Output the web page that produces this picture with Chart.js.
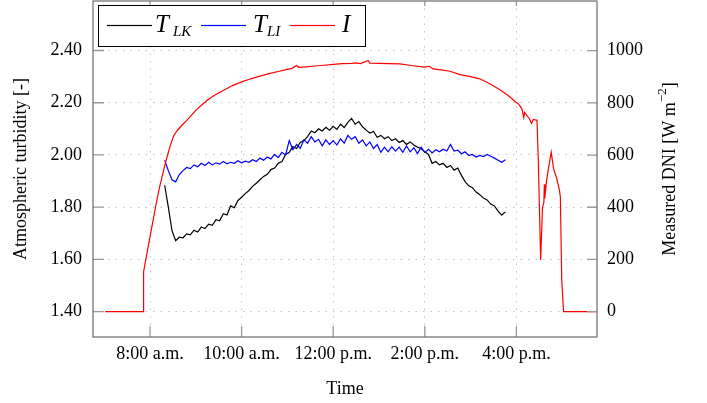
<!DOCTYPE html>
<html>
<head>
<meta charset="utf-8">
<script src="https://cdn.jsdelivr.net/npm/chart.js@4.4.0/dist/chart.umd.min.js"></script>
<style>
  html, body { margin: 0; padding: 0; background: #fff; }
  #wrap { width: 707px; height: 403px; }
</style>
</head>
<body>
<div id="wrap"><canvas id="chart" width="707" height="403"></canvas></div>
<script>
// time of day in decimal hours, shared by both turbidity series
var turbTime = [8.32, 8.40, 8.48, 8.56, 8.64, 8.72, 8.80, 8.88, 8.96, 9.04, 9.12, 9.20, 9.28, 9.36, 9.44, 9.52,
  9.60, 9.68, 9.76, 9.84, 9.92, 10.00, 10.08, 10.16, 10.24, 10.32, 10.40, 10.48, 10.56, 10.64, 10.72, 10.80,
  10.88, 10.96, 11.04, 11.12, 11.20, 11.28, 11.36, 11.44, 11.52, 11.60, 11.68, 11.76, 11.84, 11.92, 12.00,
  12.08, 12.16, 12.24, 12.32, 12.40, 12.48, 12.56, 12.64, 12.72, 12.80, 12.88, 12.96, 13.04, 13.12, 13.20,
  13.28, 13.36, 13.44, 13.52, 13.60, 13.68, 13.76, 13.84, 13.92, 14.00, 14.08, 14.16, 14.24, 14.32, 14.40,
  14.48, 14.56, 14.64, 14.72, 14.80, 14.88, 14.96, 15.04, 15.12, 15.20, 15.28, 15.36, 15.44, 15.52, 15.60,
  15.68, 15.76];

// Linke turbidity T_LK
var turbLK = [1.884, 1.800, 1.710, 1.672, 1.685, 1.683, 1.698, 1.694, 1.712, 1.705, 1.724, 1.718, 1.735, 1.731, 1.752, 1.748,
  1.775, 1.770, 1.805, 1.798, 1.826, 1.838, 1.852, 1.864, 1.880, 1.892, 1.905, 1.918, 1.926, 1.944, 1.950, 1.968,
  1.975, 2.002, 2.010, 2.032, 2.025, 2.048, 2.055, 2.070, 2.092, 2.085, 2.100, 2.092, 2.106, 2.095, 2.110,
  2.098, 2.118, 2.105, 2.125, 2.140, 2.118, 2.128, 2.108, 2.095, 2.084, 2.090, 2.068, 2.075, 2.062, 2.070,
  2.055, 2.062, 2.048, 2.055, 2.040, 2.050, 2.038, 2.030, 2.024, 2.012, 2.002, 1.968, 1.975, 1.962, 1.968,
  1.952, 1.960, 1.942, 1.950, 1.922, 1.898, 1.882, 1.875, 1.858, 1.848, 1.835, 1.828, 1.812, 1.805, 1.785,
  1.770, 1.782];

// Ineichen turbidity T_LI
var turbLI = [1.980, 1.940, 1.905, 1.897, 1.925, 1.940, 1.952, 1.948, 1.962, 1.955, 1.968, 1.960, 1.972, 1.962, 1.970, 1.965,
  1.975, 1.966, 1.972, 1.968, 1.978, 1.970, 1.976, 1.972, 1.982, 1.975, 1.988, 1.980, 1.992, 1.985, 2.002, 1.990,
  2.010, 2.000, 2.055, 2.020, 2.040, 2.025, 2.058, 2.045, 2.070, 2.050, 2.060, 2.035, 2.058, 2.040, 2.055,
  2.038, 2.062, 2.045, 2.075, 2.060, 2.070, 2.045, 2.058, 2.035, 2.050, 2.025, 2.040, 2.010, 2.030, 2.012,
  2.032, 2.015, 2.030, 2.010, 2.035, 2.012, 2.028, 2.005, 2.030, 2.010, 2.022, 2.008, 2.020, 2.012, 2.022,
  2.015, 2.040, 2.015, 2.018, 2.005, 2.012, 1.998, 2.002, 1.992, 1.998, 1.994, 2.002, 1.995, 1.988, 1.980,
  1.972, 1.982];

// measured DNI I [W m^-2]
var dniTime = [7.02, 7.85, 7.86, 7.95, 8.04, 8.12, 8.20, 8.28, 8.36, 8.44, 8.52, 8.60, 8.70, 8.80, 8.90, 9.00,
  9.10, 9.24, 9.40, 9.60, 9.80, 10.00, 10.20, 10.40, 10.60, 10.80, 11.00, 11.10, 11.20, 11.25, 11.40, 11.60,
  11.80, 12.00, 12.20, 12.40, 12.50, 12.60, 12.76, 12.80, 13.02, 13.20, 13.46, 13.70, 13.90, 14.00, 14.10,
  14.18, 14.35, 14.55, 14.77, 15.00, 15.20, 15.42, 15.64, 15.82, 15.99, 16.05, 16.12, 16.16, 16.18, 16.28,
  16.33, 16.37, 16.45, 16.48, 16.53, 16.57, 16.60, 16.61, 16.62, 16.66, 16.70, 16.76, 16.81, 16.88, 16.94,
  16.96, 16.99, 17.03, 17.76];
var dniValues = [0, 0, 153, 240, 325, 400, 470, 530, 585, 635, 675, 695, 715, 732, 752, 771,
  787, 809, 828, 847, 866, 880, 892, 902, 912, 920, 928, 932, 943, 936, 938, 941,
  944, 947, 950, 951, 953, 950, 962, 952, 951, 950, 949, 943, 939, 937, 940,
  930, 926, 921, 908, 900, 892, 873, 850, 828, 802, 795, 777, 744, 763, 740,
  721, 736, 733, 568, 198, 400, 419, 488, 434, 503, 549, 611, 549, 511, 465,
  440, 121, 0, 0];

var seriesLabels = ['T_LK', 'T_LI', 'I'];
var seriesColors = ['#000000', '#0000ff', '#ff0000'];

var timeTicks = [8, 10, 12, 14, 16];
var timeLabels = ['8:00 a.m.', '10:00 a.m.', '12:00 p.m.', '2:00 p.m.', '4:00 p.m.'];
var turbTicks = [1.4, 1.6, 1.8, 2.0, 2.2, 2.4];
var dniTicks = [0, 200, 400, 600, 800, 1000];

var SERIF = "'Liberation Serif', 'Times New Roman', serif";
Chart.defaults.font.family = SERIF;
Chart.defaults.font.size = 18;
Chart.defaults.color = '#000';

function pairs(xs, ys) {
    return xs.map(function(x, i) { return {x: x, y: ys[i]}; });
}
function fixedTicks(values) {
    return function(scale) {
        scale.ticks = values.map(function(v) { return {value: v}; });
    };
}
// fixed axis box size, no extra room for overhanging labels
function fixedSize(w, h) {
    return function(s) {
        if (w) s.width = w;
        if (h) s.height = h;
        s.paddingTop = s.paddingBottom = s.paddingLeft = s.paddingRight = 0;
    };
}

// frame, inward tick marks and the right axis title
var framePlugin = {
    id: 'frame',
    afterDraw: function(chart) {
        var ctx = chart.ctx, a = chart.chartArea;
        var sx = chart.scales.x, sy = chart.scales.y, sy2 = chart.scales.y2;
        ctx.save();
        ctx.strokeStyle = '#999';
        ctx.lineWidth = 1.3;
        ctx.beginPath();
        timeTicks.forEach(function(v) {
            var px = sx.getPixelForValue(v);
            ctx.moveTo(px, a.bottom); ctx.lineTo(px, a.bottom - 11);
            ctx.moveTo(px, a.top); ctx.lineTo(px, a.top + 5);
        });
        turbTicks.forEach(function(v) {
            var py = sy.getPixelForValue(v);
            ctx.moveTo(a.left, py); ctx.lineTo(a.left + 11, py);
        });
        dniTicks.forEach(function(v) {
            var py = sy2.getPixelForValue(v);
            ctx.moveTo(a.right, py); ctx.lineTo(a.right - 10, py);
        });
        ctx.stroke();
        ctx.strokeStyle = '#6b6b6b';
        ctx.lineWidth = 1.2;
        ctx.strokeRect(a.left, a.top, a.right - a.left, a.bottom - a.top);

        // right axis title, reading upwards, with superscript
        ctx.translate(670, (a.top + a.bottom) / 2);
        ctx.rotate(-Math.PI / 2);
        ctx.fillStyle = '#000';
        ctx.textBaseline = 'middle';
        var big = '18px ' + SERIF, small = '13px ' + SERIF;
        var t1 = 'Measured DNI [W m', t2 = '\u22122', t3 = ']';
        ctx.font = big;
        var w1 = ctx.measureText(t1).width, w3 = ctx.measureText(t3).width;
        ctx.font = small;
        var w2 = ctx.measureText(t2).width;
        var x0 = -(w1 + w2 + w3) / 2;
        ctx.font = big;
        ctx.fillText(t1, x0, 0);
        ctx.font = small;
        ctx.fillText(t2, x0 + w1, -7);
        ctx.font = big;
        ctx.fillText(t3, x0 + w1 + w2, 0);
        ctx.restore();
    }
};

// legend box with subscripted labels
var legendPlugin = {
    id: 'texLegend',
    afterDraw: function(chart) {
        var ctx = chart.ctx;
        var slots = [
            {lineX: 107, textX: 155, subX: 173},
            {lineX: 201, textX: 253, subX: 267},
            {lineX: 290, textX: 342, subX: 0}
        ];
        ctx.save();
        ctx.fillStyle = '#fff';
        ctx.fillRect(98.5, 5.5, 267, 41);
        ctx.strokeStyle = '#000';
        ctx.lineWidth = 1;
        ctx.strokeRect(98.5, 5.5, 267, 41);
        seriesLabels.forEach(function(label, i) {
            var s = slots[i];
            var parts = label.split('_');
            ctx.fillStyle = seriesColors[i];
            ctx.fillRect(s.lineX, 24.9, 45, 1.2);
            ctx.fillStyle = '#000';
            ctx.textBaseline = 'alphabetic';
            ctx.font = 'italic 25px ' + SERIF;
            ctx.fillText(parts[0], s.textX, 32);
            if (parts[1]) {
                ctx.font = 'italic 15px ' + SERIF;
                ctx.fillText(parts[1], s.subX, 35.5);
            }
        });
        ctx.restore();
    }
};

var gridStyle = {color: '#c4c4c4', lineWidth: 1, drawTicks: false};
var borderStyle = {display: false, dash: [1.5, 6]};

new Chart(document.getElementById('chart'), {
    type: 'line',
    data: {
        datasets: [
            {label: seriesLabels[0], data: pairs(turbTime, turbLK), borderColor: seriesColors[0], yAxisID: 'y', order: 3},
            {label: seriesLabels[1], data: pairs(turbTime, turbLI), borderColor: seriesColors[1], yAxisID: 'y', order: 2},
            {label: seriesLabels[2], data: pairs(dniTime, dniValues), borderColor: seriesColors[2], yAxisID: 'y2', order: 1}
        ]
    },
    options: {
        responsive: false,
        devicePixelRatio: 1,
        animation: false,
        layout: {padding: {top: 1, left: 0, right: 0, bottom: 0}},
        elements: {
            point: {radius: 0},
            line: {borderWidth: 1.2, tension: 0, fill: false}
        },
        plugins: {legend: {display: false}, tooltip: {enabled: false}},
        scales: {
            x: {
                type: 'linear',
                min: 6.755, max: 17.76,
                afterBuildTicks: fixedTicks(timeTicks),
                afterFit: fixedSize(0, 66),
                ticks: {
                    padding: 6, maxRotation: 0, autoSkip: false,
                    callback: function(v, i) { return timeLabels[i]; }
                },
                grid: gridStyle,
                border: borderStyle,
                title: {display: true, text: 'Time', padding: {top: 0, bottom: 3}}
            },
            y: {
                position: 'left',
                min: 1.3031, max: 2.5895,
                afterBuildTicks: fixedTicks(turbTicks),
                afterFit: fixedSize(93, 0),
                ticks: {padding: 11, callback: function(v) { return v.toFixed(2); }},
                grid: gridStyle,
                border: borderStyle,
                title: {display: true, text: 'Atmospheric turbidity [-]', padding: {top: 10.7, bottom: 0}}
            },
            y2: {
                position: 'right',
                min: -97, max: 1190,
                afterBuildTicks: fixedTicks(dniTicks),
                afterFit: fixedSize(110, 0),
                ticks: {padding: 10, callback: function(v) { return String(v); }},
                grid: {display: false, drawTicks: false},
                border: {display: false}
            }
        }
    },
    plugins: [framePlugin, legendPlugin]
});
</script>
</body>
</html>
